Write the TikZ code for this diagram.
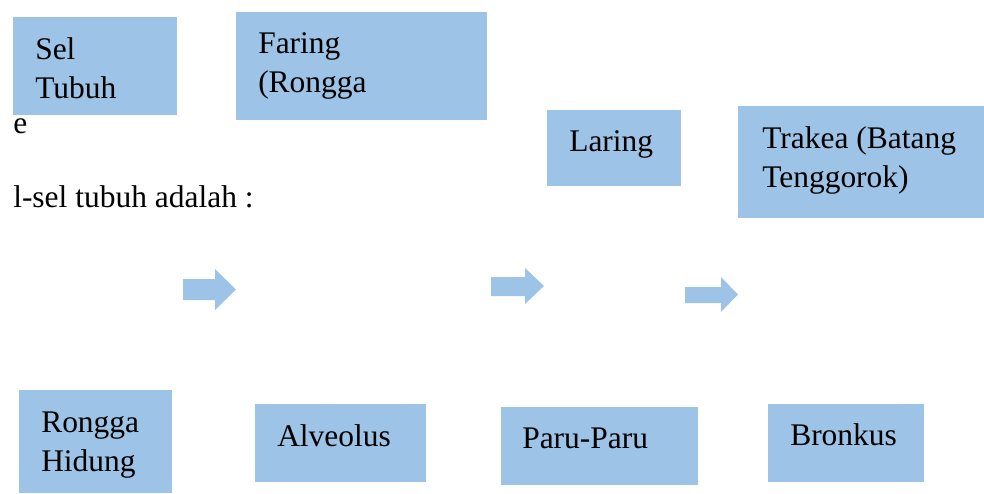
\documentclass[tikz,border=0pt]{standalone}
\usepackage{fontspec}
\setmainfont{Liberation Serif}
\definecolor{boxblue}{RGB}{157,195,230}
\tikzset{
  px/.style={x=0.75pt,y=-0.75pt},
  bluebox/.style={fill=boxblue,draw=none,inner sep=0pt,anchor=north west},
  lbl/.style={anchor=base west,inner sep=0pt,align=left,
    font=\fontsize{23.6pt}{29.25pt}\selectfont},
  bigarrow/.style={fill=boxblue,draw=none}
}
\begin{document}
\begin{tikzpicture}[px]
\useasboundingbox (0,0) rectangle (984,493);
% boxes
\node[bluebox,minimum width=123pt,minimum height=73.5pt] (sel) at (13,17) {};
\node[bluebox,minimum width=188.25pt,minimum height=81pt] (faring) at (236,12) {};
\node[bluebox,minimum width=100.5pt,minimum height=57pt] (laring) at (547,110) {};
\node[bluebox,minimum width=184.5pt,minimum height=84pt] (trakea) at (738,106) {};
\node[bluebox,minimum width=114.75pt,minimum height=77.25pt] (hidung) at (19,390) {};
\node[bluebox,minimum width=128.25pt,minimum height=58.5pt] (alveolus) at (255,404) {};
\node[bluebox,minimum width=147.75pt,minimum height=58.5pt] (paru) at (501,407) {};
\node[bluebox,minimum width=117pt,minimum height=58.5pt] (bronkus) at (768,404) {};
% labels (multi-line labels are anchored at the baseline of their last line)
\node[lbl] (tsel) at (35,98) {Sel\\Tubuh};
\node[lbl] (tfaring) at (258,92) {Faring\\(Rongga};
\node[lbl] (te) at (13,133) {e};
\node[lbl] (tsub) at (13,207) {l-sel tubuh adalah :};
\node[lbl] (tlaring) at (569,151) {Laring};
\node[lbl] (ttrakea) at (762,187) {Trakea (Batang\\Tenggorok)};
\node[lbl] (thidung) at (41,471) {Rongga\\Hidung};
\node[lbl] (talveolus) at (277,446) {Alveolus};
\node[lbl] (tparu) at (522,448) {Paru-Paru};
\node[lbl] (tbronkus) at (790,445) {Bronkus};
% block arrows
\fill[bigarrow] (183,279) -- (215,279) -- (215,269) -- (236,289.5) -- (215,310) -- (215,300) -- (183,300) -- cycle;
\fill[bigarrow] (491,277) -- (525,277) -- (525,268) -- (544,286) -- (525,304) -- (525,296) -- (491,296) -- cycle;
\fill[bigarrow] (685,287) -- (721,287) -- (721,277) -- (738,294.5) -- (721,312) -- (721,303) -- (685,303) -- cycle;
\end{tikzpicture}
\end{document}
